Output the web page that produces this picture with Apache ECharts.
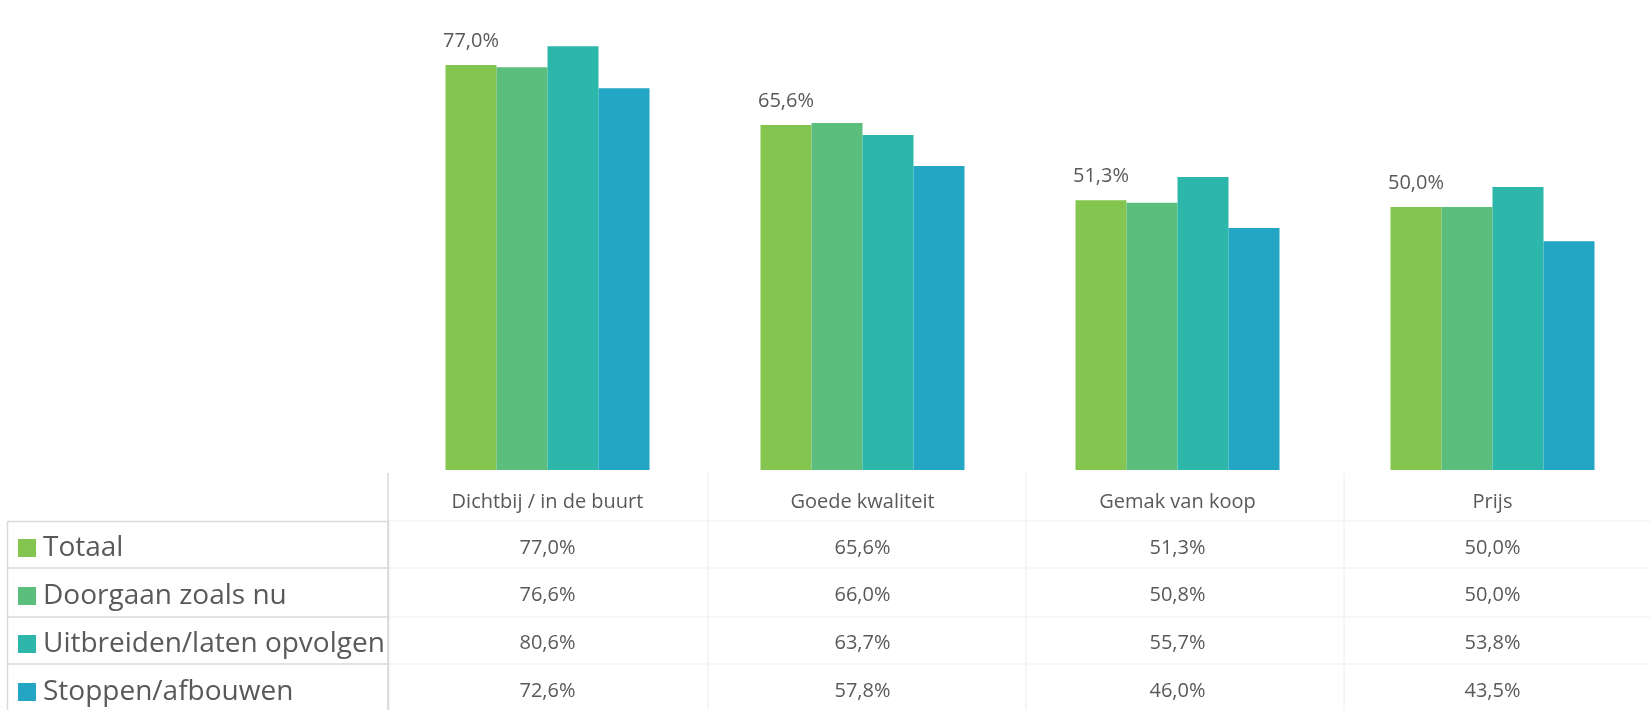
<!DOCTYPE html>
<html>
<head>
<meta charset="utf-8">
<script src="https://cdn.jsdelivr.net/npm/echarts@6/dist/echarts.min.js"></script>
<style>
html,body{margin:0;padding:0;background:#fff;}
#chart{width:1650px;height:710px;}
</style>
</head>
<body>
<div id="chart"></div>
<script>
const categories = ['Dichtbij / in de buurt', 'Goede kwaliteit', 'Gemak van koop', 'Prijs'];
const seriesNames = ['Totaal', 'Doorgaan zoals nu', 'Uitbreiden/laten opvolgen', 'Stoppen/afbouwen'];
const totaal = [77.0, 65.6, 51.3, 50.0];
const doorgaan = [76.6, 66.0, 50.8, 50.0];
const uitbreiden = [80.6, 63.7, 55.7, 53.8];
const stoppen = [72.6, 57.8, 46.0, 43.5];
const colors = ['#83C54F', '#5CBE7D', '#2CB7AA', '#22A6C4'];

const seriesData = [totaal, doorgaan, uitbreiden, stoppen];
const fmt = v => v.toFixed(1).replace('.', ',') + '%';
const textColor = '#595959';
const font = '"Open Sans", sans-serif';

const rowOffsets = [68, 115, 163, 211];
const tableAxes = seriesData.map((arr, i) => ({
  type: 'category',
  gridIndex: 0,
  position: 'bottom',
  offset: rowOffsets[i],
  data: arr.map(fmt),
  axisLine: {show: false},
  axisTick: {show: false},
  splitLine: {show: false},
  axisLabel: {margin: 0, color: textColor, fontSize: 20, fontFamily: font, interval: 0}
}));

const chart = echarts.init(document.getElementById('chart'), null, {renderer: 'canvas'});
const tableLines = [];
[708, 1026, 1344].forEach(x => tableLines.push({type: 'line', shape: {x1: x, y1: 473, x2: x, y2: 710}, style: {stroke: '#ececec', lineWidth: 1}}));
[521, 568, 617, 664].forEach(y => tableLines.push({type: 'line', shape: {x1: 388, y1: y, x2: 1650, y2: y}, style: {stroke: '#efefef', lineWidth: 1}}));
tableLines.push({type: 'line', shape: {x1: 388, y1: 473, x2: 388, y2: 710}, style: {stroke: '#d9d9d9', lineWidth: 1.5}});
tableLines.push({type: 'rect', shape: {x: 7.5, y: 521.5, width: 381, height: 200}, style: {fill: 'none', stroke: '#d9d9d9', lineWidth: 1.5}});
[568, 617, 664].forEach(y => tableLines.push({type: 'line', shape: {x1: 7, y1: y, x2: 388, y2: y}, style: {stroke: '#d9d9d9', lineWidth: 1.5}}));

chart.setOption({
  animation: false,
  color: colors,
  grid: {left: 390, top: 23, width: 1272, height: 447, containLabel: false},
  legend: {
    orient: 'vertical',
    left: 18,
    top: 533,
    height: 300,
    padding: 0,
    icon: 'rect',
    itemWidth: 18,
    itemHeight: 18,
    itemGap: 18,
    data: seriesNames,
    textStyle: {color: textColor, fontSize: 28, fontFamily: font, lineHeight: 30, padding: [0, 0, 0, 2]}
  },
  xAxis: [{
    type: 'category',
    data: categories,
    axisLine: {show: false},
    axisTick: {show: false},
    axisLabel: {margin: 22, color: textColor, fontSize: 20, fontFamily: font, interval: 0}
  }].concat(tableAxes),
  yAxis: {type: 'value', min: 0, max: 85, show: false, splitLine: {show: false}},
  series: seriesNames.map((name, i) => ({
    name: name,
    type: 'bar',
    xAxisIndex: 0,
    data: seriesData[i],
    barWidth: 51,
    barGap: '0%',
    itemStyle: {color: colors[i]},
    label: i === 0 ? {show: true, position: 'top', distance: 14, color: textColor, fontSize: 20, fontFamily: font, formatter: p => fmt(p.value)} : {show: false}
  })),
  graphic: tableLines
});
</script>
</body>
</html>
